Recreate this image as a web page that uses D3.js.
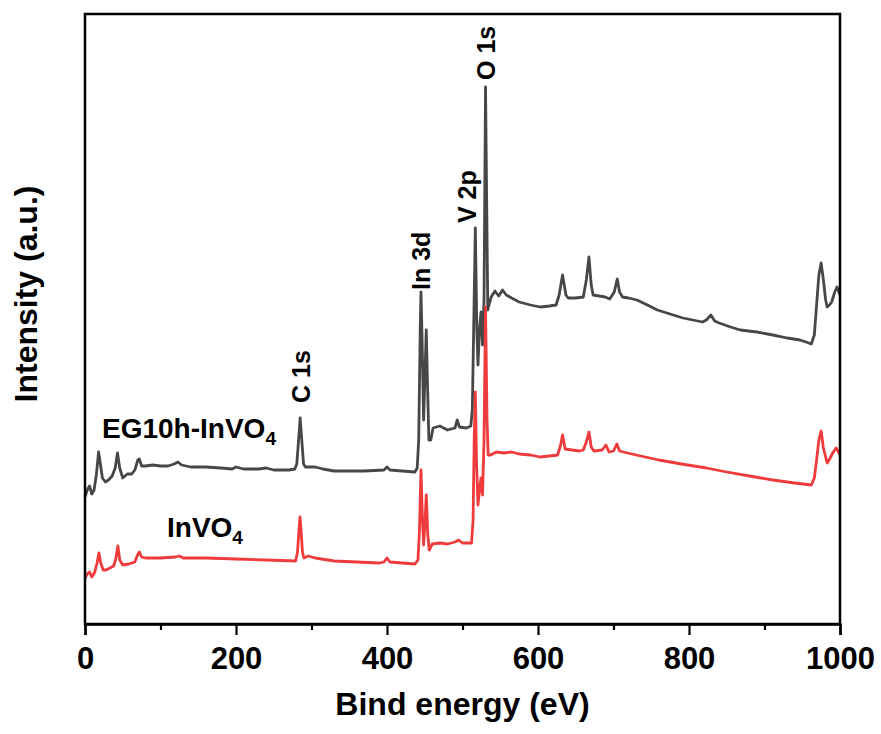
<!DOCTYPE html>
<html><head><meta charset="utf-8">
<script src="https://cdn.jsdelivr.net/npm/d3@7"></script>
<style>body{margin:0;background:#fff}</style>
</head><body><svg id="c" width="881" height="734"></svg>
<script>
// ---- data ----
const xTicks = [0, 200, 400, 600, 800, 1000];
const xMinorTicks = [100, 300, 500, 700, 900];
const seriesNames = ["EG10h-InVO", "InVO"];
const seriesColors = ["#474747", "#ef3b3b"];
// EG10h-InVO4 spectrum: [binding energy (eV), intensity (a.u.)]
const egSpectrum = [[0,127],[3,134],[6,138],[9,130],[12,134],[15,149],[18,172],[20,162],[23,146],[27,142],[31,144],[36,148],[40,156],[43,171],[46,156],[50,146],[56,150],[62,150],[66,154],[70,164],[72,165],[75,158],[80,158],[90,159],[100,158],[110,158],[118,160],[123,162],[128,159],[140,157],[160,157],[180,156],[195,155],[200,157],[210,155],[230,155],[240,156],[250,154],[270,154],[278,155],[280.5,160],[282.5,180],[285,206],[287.5,180],[289.5,160],[292,157],[305,157],[315,155],[330,153],[370,153],[396,154],[400,157],[404,154],[420,153],[437,152],[440,156],[442,184],[444,294],[445,332],[446.5,284],[448.5,204],[450.5,254],[452,294],[453.5,244],[455.5,184],[458,184],[461,196],[470,198],[480,194],[490,196],[493,204],[496,197],[505,196],[511,198],[513,214],[515,304],[517,396],[519,294],[520.5,259],[522.5,294],[524.5,312],[526.5,279],[528.5,324],[530.5,537],[532,424],[533.5,314],[535,319],[538,327],[543,333],[548,328],[553,334],[558,329],[565,326],[575,322],[590,319],[603,317],[615,318],[624,319],[628,329],[632.5,349],[637,329],[640,326],[650,326],[660,327],[664,344],[667.5,367],[670.5,339],[673,329],[689,327],[695,325],[701,332],[705,345],[708,332],[712,327],[720,326],[731,324],[745,319],[758,314],[775,310],[792,306],[805,304],[818,302],[823,304],[829,309],[834,303],[840,301],[855,297],[868,294],[890,292],[911,289],[930,286],[947,284],[955,282],[962,280],[966,289],[969,319],[972,349],[975,361],[978,344],[981,324],[983,317],[986,319],[989,322],[993,332],[996,337],[1000,329]];
// InVO4 spectrum: [binding energy (eV), intensity (a.u.)]
const invSpectrum = [[0,46],[3,50],[6,52],[9,47],[13,52],[16,61],[18.5,71],[20.5,62],[24,54],[28,54],[33,56],[38,58],[41,66],[43.5,78],[46,64],[50,59],[58,60],[66,62],[69,68],[72,72],[75,67],[80,66],[100,66],[120,67],[125,68],[130,66],[160,66],[200,65],[240,64],[279,63],[281.5,72],[283,90],[284.8,107],[286.5,90],[288,72],[290,66],[296,68],[305,66],[330,63],[360,62],[390,61],[396,62],[400,66],[404,62],[420,61],[437,60],[441,64],[443,94],[445,154],[447,104],[448.5,79],[450.5,104],[452,129],[454,89],[456,74],[460,80],[470,81],[480,80],[490,82],[495,84],[500,81],[512,81],[514,104],[515.5,184],[517,232],[518.5,164],[520.5,119],[522.5,134],[524.5,146],[526.5,129],[528.5,184],[530.5,317],[532.5,204],[534,169],[537,169],[545,172],[555,171],[565,172],[575,170],[590,169],[603,167],[615,168],[626,169],[630,179],[632.5,189],[636,175],[645,174],[655,173],[660,174],[664,182],[667.5,192],[670.5,177],[674,173],[685,174],[690,179],[694,172],[700,173],[704.5,180],[708,173],[713,172],[730,169],[760,164],[790,160],[823,156],[850,152],[880,148],[911,144],[940,141],[962,139],[966,146],[969,164],[972,184],[975,193],[978,176],[983,161],[987,166],[991,172],[995,176],[998,172],[1000,169]];
const peakLabels = ["C 1s", "In 3d", "V 2p", "O 1s"];
const peakEnergies = [285, 445, 517, 531];

// ---- layout ----
const W = 881, H = 734;
const m = {left: 85, right: 41, top: 14, bottom: 110};
const iw = W - m.left - m.right, ih = H - m.top - m.bottom;
const FONT = "'Liberation Sans', Arial, Helvetica, sans-serif";

const svg = d3.select("#c");
const g = svg.append("g").attr("transform", `translate(${m.left},${m.top})`);

const x = d3.scaleLinear().domain([0, 1000]).range([0, iw]);
const y = d3.scaleLinear().domain([0, 610]).range([ih, 0]);

const line = d3.line().x(d => x(d[0])).y(d => y(d[1]));

[egSpectrum, invSpectrum].forEach((s, i) => {
  g.append("path").datum(s).attr("d", line)
    .attr("fill", "none").attr("stroke", seriesColors[i])
    .attr("stroke-width", 2.8).attr("stroke-linejoin", "round");
});

// frame
g.append("rect").attr("x", 0).attr("y", 0).attr("width", iw).attr("height", ih)
  .attr("fill", "none").attr("stroke", "#000").attr("stroke-width", 2.5);

// bottom axis
const xAxis = d3.axisBottom(x).tickValues(xTicks).tickSize(11).tickPadding(12).tickFormat(d3.format("d"));
const ax = g.append("g").attr("transform", `translate(0,${ih})`).call(xAxis);
ax.select(".domain").attr("stroke-width", 2.5);
ax.selectAll(".tick line").attr("stroke-width", 2.2);
ax.selectAll(".tick text").attr("font-family", FONT).attr("font-weight", "bold")
  .attr("font-size", 31).attr("fill", "#000");
const axm = g.append("g").attr("transform", `translate(0,${ih})`)
  .call(d3.axisBottom(x).tickValues(xMinorTicks).tickSize(6).tickFormat(""));
axm.select(".domain").remove();
axm.selectAll(".tick line").attr("stroke-width", 2.2);

// axis titles
svg.append("text").attr("x", m.left + iw / 2).attr("y", 715)
  .attr("text-anchor", "middle").attr("font-family", FONT).attr("font-weight", "bold")
  .attr("font-size", 32).text("Bind energy (eV)");
svg.append("text").attr("transform", "translate(37,294) rotate(-90)")
  .attr("text-anchor", "middle").attr("font-family", FONT).attr("font-weight", "bold")
  .attr("font-size", 32).text("Intensity (a.u.)");

// series labels with subscript
function seriesLabel(px, py, name) {
  const t = svg.append("text").attr("x", px).attr("y", py)
    .attr("font-family", FONT).attr("font-weight", "bold").attr("font-size", 28).attr("fill", "#000");
  t.append("tspan").text(name);
  t.append("tspan").attr("dy", 7).attr("font-size", 19).text("4");
}
seriesLabel(102, 438, seriesNames[0]);
seriesLabel(167, 537, seriesNames[1]);

// peak labels (rotated), placed above the EG10h peak maxima
const labelDx = [10, 9, 1, 9];
const labelGap = [15, 2, 5, 7];
peakLabels.forEach((lab, i) => {
  const e = peakEnergies[i];
  const top = d3.max(egSpectrum.filter(d => Math.abs(d[0] - e) < 2.5), d => d[1]);
  const px = m.left + x(e) + labelDx[i];
  const py = m.top + y(top) - labelGap[i];
  svg.append("text").attr("transform", `translate(${px},${py}) rotate(-90)`)
    .attr("font-family", FONT).attr("font-weight", "bold").attr("font-size", 25)
    .attr("fill", "#000").text(lab);
});
</script></body></html>
